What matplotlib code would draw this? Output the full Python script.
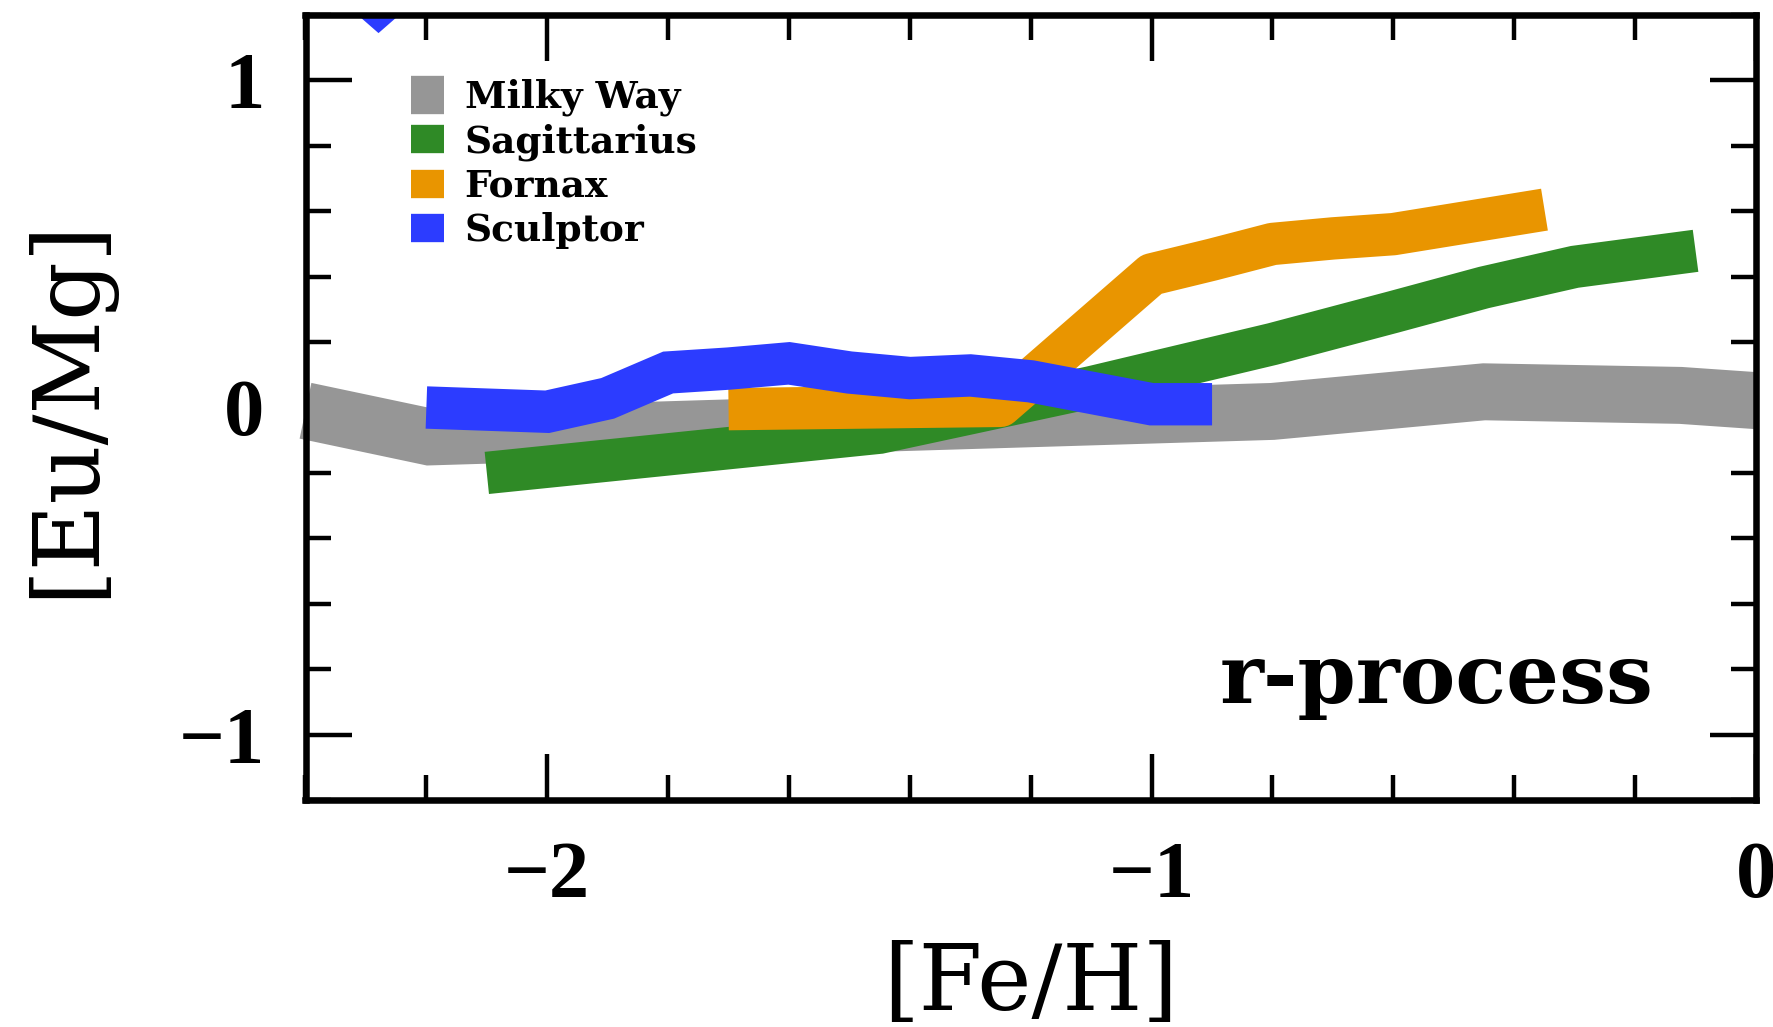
import matplotlib
matplotlib.use("Agg")
import matplotlib.pyplot as plt
from matplotlib.lines import Line2D
from matplotlib.ticker import MultipleLocator

# ---------------- data ----------------
series_names = ["Milky Way", "Sagittarius", "Fornax", "Sculptor"]

mw_feh = [-2.4, -2.195, -0.8, -0.45, -0.125, 0.0]
mw_eumg = [-0.01, -0.09, -0.012, 0.048, 0.037, 0.021]

sgr_feh = [-2.1, -1.45, -1.1, -0.8, -0.6, -0.45, -0.3, -0.1]
sgr_eumg = [-0.2, -0.077, 0.062, 0.194, 0.292, 0.367, 0.43, 0.479]

fnx_feh = [-1.7, -1.25, -1.0, -0.9, -0.8, -0.7, -0.6, -0.35]
fnx_eumg = [-0.005, 0.005, 0.407, 0.452, 0.50, 0.517, 0.530, 0.605]

scl_feh = [-2.2, -2.0, -1.9, -1.8, -1.7, -1.6, -1.5, -1.4, -1.3, -1.2, -1.0, -0.9]
scl_eumg = [0.0, -0.013, 0.028, 0.107, 0.119, 0.135, 0.107, 0.09, 0.098, 0.08, 0.01, 0.01]

scl_limit_feh = [-2.28]
scl_limit_eumg = [1.2]

xlabel_text = "[Fe/H]"
ylabel_text = "[Eu/Mg]"
panel_text = "r-process"

# ---------------- styling ----------------
colors = ["#969696", "#2f8a26", "#e99500", "#2c3cff"]
line_widths = [41.0, 30.5, 30.5, 30.5]
legend_widths = [27.6, 20.4, 20.4, 20.4]

plt.rcParams["font.family"] = ["DejaVu Serif", "DejaVu Sans"]
plt.rcParams["font.weight"] = "bold"

W, H = 1774, 1027
fig = plt.figure(figsize=(W / 100, H / 100), dpi=100)
ax_l, ax_r, ax_t, ax_b = 305.5, 1756.0, 15.0, 800.0
ax = fig.add_axes([ax_l / W, (H - ax_b) / H, (ax_r - ax_l) / W, (ax_b - ax_t) / H])

series = [(mw_feh, mw_eumg), (sgr_feh, sgr_eumg), (fnx_feh, fnx_eumg), (scl_feh, scl_eumg)]
joins = ["miter", "miter", "round", "miter"]
for i, (xs, ys) in enumerate(series):
    ax.plot(xs, ys, color=colors[i], lw=line_widths[i],
            solid_capstyle="butt", solid_joinstyle=joins[i],
            clip_on=(i != 0), zorder=2)

tri = [(-1, 0), (1, 0), (0, -0.874), (-1, 0)]
ax.plot(scl_limit_feh, scl_limit_eumg, ls="none", marker=tri, ms=29,
        mew=0, color=colors[3], clip_on=True, zorder=2)

ax.set_xlim(-2.4, 0)
ax.set_ylim(-1.2, 1.2)

ax.xaxis.set_major_locator(MultipleLocator(1))
ax.xaxis.set_minor_locator(MultipleLocator(0.2))
ax.yaxis.set_major_locator(MultipleLocator(1))
ax.yaxis.set_minor_locator(MultipleLocator(0.2))

ax.tick_params(which="both", direction="in", top=True, right=True, width=3.2, color="black")
ax.tick_params(which="major", length=33, pad=29.5, labelsize=58,
               labelfontfamily="Liberation Serif")
ax.tick_params(which="minor", length=18)
for sp in ax.spines.values():
    sp.set_linewidth(4.7)

ax.set_xlabel(xlabel_text, fontsize=66, fontweight="normal")
ax.xaxis.label.set_verticalalignment("baseline")
ax.xaxis.set_label_coords(0.5, (ax_b - 1010) / (ax_b - ax_t))

ax.set_ylabel(ylabel_text, fontsize=66, fontweight="normal")
ax.yaxis.set_label_coords((112 - ax_l) / (ax_r - ax_l), 0.5)

ax.text(0.780, (ax_b - 703.3) / (ax_b - ax_t), panel_text, transform=ax.transAxes,
        ha="center", va="baseline", fontsize=60, fontweight="bold")

handles = [Line2D([0], [0], color=colors[i], lw=legend_widths[i], solid_capstyle="butt")
           for i in range(4)]
ax.legend(handles, series_names, loc="upper left",
          bbox_to_anchor=((411 - ax_l) / (ax_r - ax_l), (ax_b - 78.7) / (ax_b - ax_t)),
          frameon=False, fontsize=27, handlelength=0.88, handletextpad=0.55,
          labelspacing=0.19, borderpad=0, borderaxespad=0)

fig.savefig("out.png", dpi=100)
